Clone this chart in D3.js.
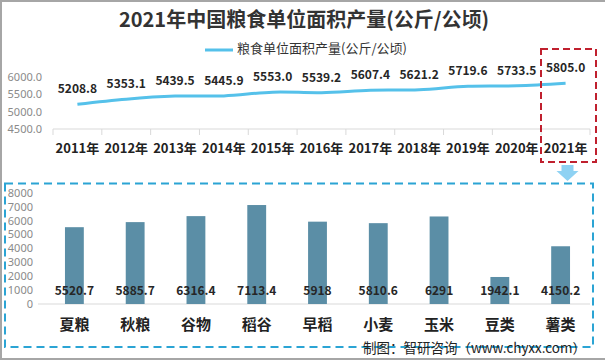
<!DOCTYPE html>
<html><head><meta charset="utf-8">
<script src="https://cdn.jsdelivr.net/npm/d3@7/dist/d3.min.js"></script>
<style>
html,body{margin:0;padding:0;background:#fff;}
svg{display:block;font-family:"Microsoft YaHei","Noto Sans CJK SC","Noto Sans",sans-serif;}
</style></head>
<body>
<script>
// ---- data ----
const title = "2021年中国粮食单位面积产量(公斤/公顷)";
const seriesName = "粮食单位面积产量(公斤/公顷)";
const years = ["2011年","2012年","2013年","2014年","2015年","2016年","2017年","2018年","2019年","2020年","2021年"];
const yieldValues = [5208.8,5353.1,5439.5,5445.9,5553.0,5539.2,5607.4,5621.2,5719.6,5733.5,5805.0];
const lineTicks = [4500,5000,5500,6000];
const crops = ["夏粮","秋粮","谷物","稻谷","早稻","小麦","玉米","豆类","薯类"];
const cropValues = [5520.7,5885.7,6316.4,7113.4,5918,5810.6,6291,1942.1,4150.2];
const cropLabels = ["5520.7","5885.7","6316.4","7113.4","5918","5810.6","6291","1942.1","4150.2"];
const barTicks = [0,1000,2000,3000,4000,5000,6000,7000,8000];
const source = "制图：智研咨询（www.chyxx.com）";

const W = 605, H = 363;
const svg = d3.select("body").append("svg").attr("width", W).attr("height", H);

// outer frame
svg.append("rect").attr("x",1).attr("y",1).attr("width",W+4).attr("height",358)
  .attr("fill","none").attr("stroke","#a6a6a6").attr("stroke-width",2);

// title
svg.append("text").attr("x",304).attr("y",27).attr("text-anchor","middle")
  .attr("font-size",20).attr("font-weight","bold").attr("fill","#333").text(title);

// legend
svg.append("line").attr("x1",205).attr("x2",233).attr("y1",50).attr("y2",50)
  .attr("stroke","#55c1ea").attr("stroke-width",3);
svg.append("text").attr("x",237).attr("y",53).attr("font-size",13).attr("fill","#333").text(seriesName);

// ---- line chart ----
const xl = d3.scaleBand().domain(years).range([53,590]).padding(0);
const yl = d3.scaleLinear().domain([4500,6000]).range([129,76.5]);

const gLineAxis = svg.append("g").attr("transform","translate(0,129)");
gLineAxis.append("line").attr("x1",53).attr("x2",590).attr("stroke","#d9d9d9");
gLineAxis.selectAll("line.tk").data(years.concat(["end"])).join("line").attr("class","tk")
  .attr("x1",(d,i)=> i<years.length ? xl(d) : 590).attr("x2",(d,i)=> i<years.length ? xl(d) : 590)
  .attr("y1",0).attr("y2",6).attr("stroke","#d9d9d9");
gLineAxis.selectAll("text").data(years).join("text")
  .attr("x",d=>xl(d)+xl.bandwidth()/2).attr("y",24).attr("text-anchor","middle")
  .attr("font-size",13).attr("font-weight","bold").attr("fill","#222").text(d=>d);

const lyAxis = d3.axisLeft(yl).tickValues(lineTicks).tickFormat(d3.format(".1f")).tickSize(0).tickPadding(0);
const gly = svg.append("g").attr("transform","translate(42,0)").call(lyAxis);
gly.select(".domain").remove();
gly.selectAll("text").attr("font-size",11).attr("fill","#8a8a8a").attr("font-family","'Noto Sans',sans-serif");

const line = d3.line().x((d,i)=>xl(years[i])+xl.bandwidth()/2).y(d=>yl(d)).curve(d3.curveCatmullRom.alpha(0.5));
svg.append("path").datum(yieldValues).attr("d",line).attr("fill","none")
  .attr("stroke","#55c1ea").attr("stroke-width",3);
svg.selectAll("text.lv").data(yieldValues).join("text").attr("class","lv")
  .attr("x",(d,i)=>xl(years[i])+xl.bandwidth()/2).attr("y",d=>yl(d)-11)
  .attr("text-anchor","middle").attr("font-size",12).attr("font-weight","bold").attr("fill","#262626")
  .text(d=>d3.format(".1f")(d));

// red dashed highlight box
svg.append("rect").attr("x",541).attr("y",49).attr("width",55).attr("height",113)
  .attr("fill","none").attr("stroke","#c0202e").attr("stroke-width",2).attr("stroke-dasharray","7,4");

// arrow
svg.append("path").attr("d","M561.5,165 L573.5,165 L573.5,171 L578.5,171 L567.5,181 L556.5,171 L561.5,171 Z")
  .attr("fill","#8fd2f3");

// ---- bar chart ----
const xb = d3.scaleBand().domain(crops).range([44,591]).paddingInner(0.69).paddingOuter(0.345);
const yb = d3.scaleLinear().domain([0,8000]).range([304,192.7]);

svg.append("line").attr("x1",38).attr("x2",590).attr("y1",304).attr("y2",304).attr("stroke","#d9d9d9");
const byAxis = d3.axisLeft(yb).tickValues(barTicks).tickFormat(d3.format("d")).tickSize(0).tickPadding(0);
const gby = svg.append("g").attr("transform","translate(33,0)").call(byAxis);
gby.select(".domain").remove();
gby.selectAll("text").attr("font-size",11).attr("fill","#8a8a8a").attr("font-family","'Noto Sans',sans-serif");

svg.selectAll("rect.bar").data(cropValues).join("rect").attr("class","bar")
  .attr("x",(d,i)=>xb(crops[i])).attr("width",xb.bandwidth())
  .attr("y",d=>yb(d)).attr("height",d=>yb(0)-yb(d)).attr("fill","#5b8ea6");
svg.selectAll("text.bv").data(cropLabels).join("text").attr("class","bv")
  .attr("x",(d,i)=>xb(crops[i])+xb.bandwidth()/2).attr("y",295)
  .attr("text-anchor","middle").attr("font-size",12).attr("font-weight","bold").attr("fill","#262626")
  .text(d=>d);
svg.selectAll("text.bc").data(crops).join("text").attr("class","bc")
  .attr("x",d=>xb(d)+xb.bandwidth()/2).attr("y",330)
  .attr("text-anchor","middle").attr("font-size",15).attr("font-weight","bold").attr("fill","#222")
  .text(d=>d);

// blue dashed box
svg.append("rect").attr("x",5).attr("y",183.5).attr("width",588).attr("height",163.5)
  .attr("fill","none").attr("stroke","#2ba4d4").attr("stroke-width",2).attr("stroke-dasharray","8,5");

// source
svg.append("text").attr("x",586).attr("y",353).attr("text-anchor","end")
  .attr("font-size",13.5).attr("fill","#222").text(source);
</script>
</body></html>
